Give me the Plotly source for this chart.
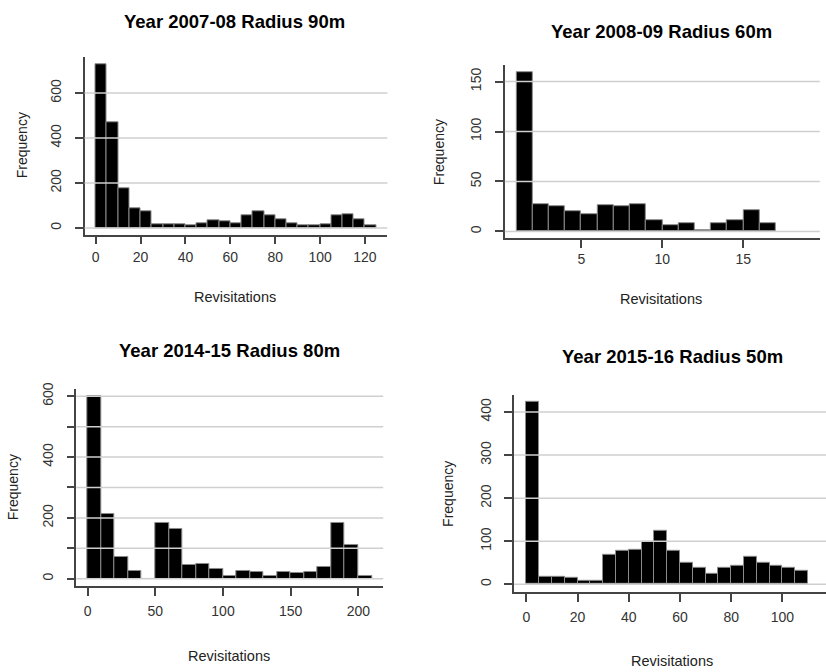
import plotly.graph_objects as go

# ---------------- data ----------------
titles = ["Year 2007-08 Radius 90m", "Year 2008-09 Radius 60m",
          "Year 2014-15 Radius 80m", "Year 2015-16 Radius 50m"]

# histogram bins: first left edge, bin width, counts
start_0708, width_0708 = 0, 5
counts_0708 = [730, 472, 177, 88, 75, 15, 15, 15, 10, 19, 35, 30, 23, 58, 75,
               58, 38, 22, 10, 13, 18, 58, 63, 38, 10]

start_0809, width_0809 = 1, 1
counts_0809 = [159, 27, 25, 20, 17, 26, 25, 27, 11, 6, 8, 1, 8, 11, 21, 8]

start_1415, width_1415 = 0, 10
counts_1415 = [600, 213, 72, 25, 0, 182, 163, 45, 48, 32, 9, 25, 22, 9, 22,
               18, 22, 38, 182, 112, 9]

start_1516, width_1516 = 0, 5
counts_1516 = [423, 18, 18, 16, 9, 7, 68, 77, 80, 99, 125, 77, 49, 38, 25, 38,
               44, 63, 49, 42, 38, 31]

xticks = [[0, 20, 40, 60, 80, 100, 120], [5, 10, 15],
          [0, 50, 100, 150, 200], [0, 20, 40, 60, 80, 100]]
yticks = [[0, 200, 400, 600], [0, 50, 100, 150],
          [0, 100, 200, 300, 400, 500, 600], [0, 100, 200, 300, 400]]
ylabels = [["0", "200", "400", "600"], ["0", "50", "100", "150"],
           ["0", "", "200", "", "400", "", "600"], ["0", "100", "200", "300", "400"]]

panels = [(start_0708, width_0708, counts_0708),
          (start_0809, width_0809, counts_0809),
          (start_1415, width_1415, counts_1415),
          (start_1516, width_1516, counts_1516)]

# ---------------- layout geometry (pixels) ----------------
W, H = 826, 672
boxes = [(84.5, 387.4, 50.8, 229.9),
         (504.8, 819.8, 58.8, 233.2),
         (76.3, 383.2, 386.0, 585.1),
         (514.0, 826.0, 391.9, 591.6)]
xranges = [[-5, 130], [0.28, 19.72], [-8.4, 218.4], [-4.8, 117]]
yranges = [[-29.2, 759.2], [-6.4, 166.4], [-24, 624], [-19, 440]]
title_pos = [(234.5, 15), (661, 25), (229, 347), (672, 353)]
freq_pos = [(21.7, 140), (439.7, 147), (13.3, 485), (448, 492)]
rev_pos = [(235, 293), (661, 295), (229, 656), (672, 661)]
xstand = [1, 0, 3, 3]

FONT = "Liberation Sans, Arial, sans-serif"
fig = go.Figure()
annotations = []
shapes = []

for i, (st, wd, cnt) in enumerate(panels):
    k = "" if i == 0 else str(i + 1)
    centers = [st + wd * (j + 0.5) for j in range(len(cnt))]
    fig.add_trace(go.Bar(
        x=centers, y=cnt, width=wd,
        marker=dict(color="black", line=dict(color="#8a8a8a", width=1)),
        xaxis="x" + k, yaxis="y" + k, showlegend=False, hoverinfo="x+y"))
    x0, x1, y0, y1 = boxes[i]
    common = dict(showline=True, linecolor="#444", linewidth=1.5,
                  ticks="outside", ticklen=8, tickwidth=1.5, tickcolor="#444",
                  showgrid=False, zeroline=False,
                  tickfont=dict(family=FONT, size=14, color="#333"))
    fig.update_layout(**{
        "xaxis" + k: dict(domain=[x0 / W, x1 / W], range=xranges[i],
                          anchor="y" + k, tickmode="array", tickvals=xticks[i],
                          ticklabelstandoff=xstand[i], **common),
        "yaxis" + k: dict(domain=[1 - y1 / H, 1 - y0 / H], range=yranges[i],
                          anchor="x" + k, tickmode="array", tickvals=yticks[i],
                          ticktext=ylabels[i], tickangle=-90,
                          ticklabelstandoff=8, **common),
    })
    for v in yticks[i]:
        shapes.append(dict(type="line", xref="x" + k + " domain", yref="y" + k,
                           x0=0, x1=1, y0=v, y1=v, layer="above",
                           line=dict(color="#cfcfcf", width=1.5)))
    tx, ty = title_pos[i]
    annotations.append(dict(text="<b>" + titles[i] + "</b>", x=tx / W, y=1 - ty / H,
                            xref="paper", yref="paper", showarrow=False,
                            xanchor="center", yanchor="middle",
                            font=dict(family=FONT, size=18.5, color="black")))
    fx, fy = freq_pos[i]
    annotations.append(dict(text="Frequency", x=fx / W, y=1 - fy / H,
                            xref="paper", yref="paper", showarrow=False,
                            textangle=-90, xanchor="center", yanchor="middle",
                            font=dict(family=FONT, size=14, color="#222")))
    rx, ry = rev_pos[i]
    annotations.append(dict(text="Revisitations", x=rx / W, y=1 - ry / H,
                            xref="paper", yref="paper", showarrow=False,
                            xanchor="center", yanchor="middle",
                            font=dict(family=FONT, size=14.5, color="#222")))

fig.update_layout(width=W, height=H, margin=dict(l=0, r=0, t=0, b=0),
                  plot_bgcolor="white", paper_bgcolor="white",
                  bargap=0, annotations=annotations, shapes=shapes)
fig.write_html("out.html")
